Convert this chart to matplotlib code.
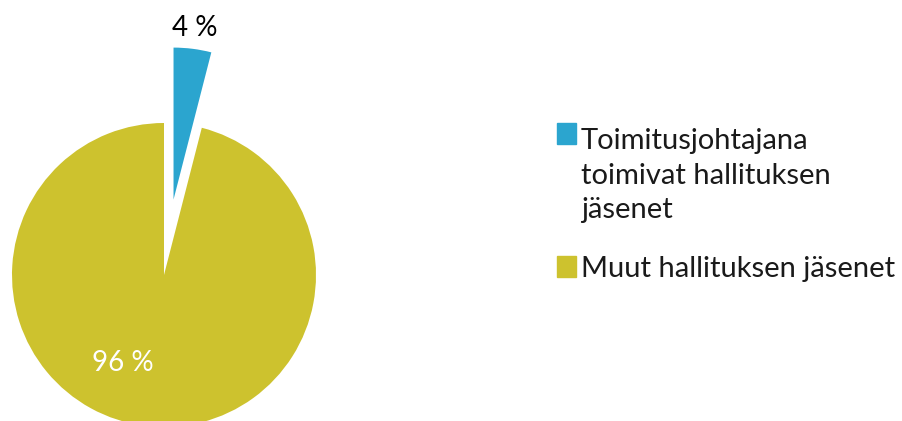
import matplotlib.pyplot as plt
from matplotlib.patches import Rectangle

# data
labels = ['Toimitusjohtajana\ntoimivat hallituksen\njäsenet', 'Muut hallituksen jäsenet']
shares = [4, 96]
colors = ['#2ba5cf', '#cdc22e']
explode = [0.5, 0]

plt.rcParams['font.family'] = ['Lato', 'DejaVu Sans']

W, H = 903, 421
fig = plt.figure(figsize=(W / 100, H / 100), dpi=100)
ax = fig.add_axes([0, 0, 1, 1])

# pie centre at (164, 275) px from top-left, radius 152 px
cx, cy, r = 164, 275, 152
wedges, texts, autotexts = ax.pie(
    shares, colors=colors, explode=explode, startangle=90, counterclock=False,
    autopct=lambda p: f'{p:.0f} %', pctdistance=1.14,
    wedgeprops=dict(linewidth=0), textprops=dict(fontsize=20))
ax.set_aspect('auto')
ax.set_xlim(-cx / r, (W - cx) / r)
ax.set_ylim(-(H - cy) / r, cy / r)
ax.axis('off')

autotexts[0].set_color('black')
autotexts[1].set_color('white')
autotexts[1].set_position((-0.27, -0.58))

# legend, drawn by hand so the square lines up with the first text line
def px(x, y):
    return x / W, (H - y) / H

line_gap = 37
for (sy, label, col) in [(123, labels[0], colors[0]), (256, labels[1], colors[1])]:
    fig.patches.append(Rectangle(px(557, sy + 21), 19 / W, 21 / H, color=col,
                                 transform=fig.transFigure))
    n = label.count('\n')
    # baseline alignment uses the last line, so put it n lines lower
    fig.text(*px(581, sy + 21 + n * line_gap), label, fontsize=21, va='baseline',
             ha='left', linespacing=1.4, color='#1a1a1a')

fig.savefig('out.png', dpi=100)
